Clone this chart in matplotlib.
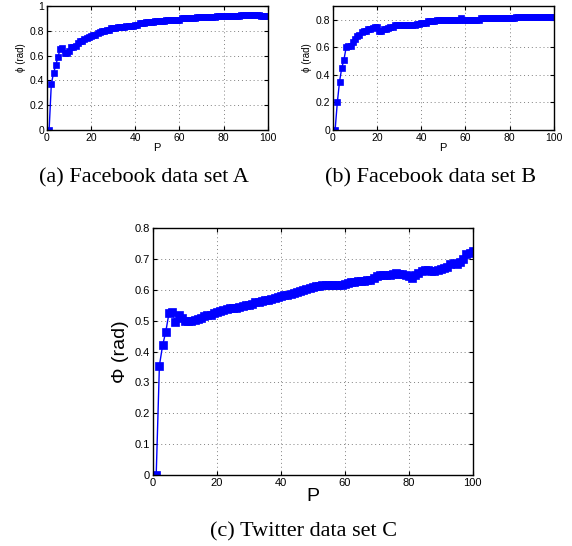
import matplotlib

matplotlib.use("Agg")
import matplotlib.pyplot as plt  # noqa: E402

plt.rcParams["font.family"] = ["Liberation Sans", "DejaVu Sans"]

P = list(range(1, 101))

phi_a = [0.00, 0.37, 0.46, 0.52, 0.59, 0.65, 0.66, 0.62, 0.62, 0.64,
         0.67, 0.67, 0.68, 0.70, 0.72, 0.72, 0.73, 0.74, 0.75, 0.76,
         0.77, 0.77, 0.78, 0.79, 0.80, 0.80, 0.81, 0.81, 0.82, 0.82,
         0.82, 0.83, 0.83, 0.83, 0.83, 0.84, 0.84, 0.84, 0.84, 0.85,
         0.85, 0.86, 0.86, 0.86, 0.87, 0.87, 0.87, 0.87, 0.88, 0.88,
         0.88, 0.88, 0.88, 0.89, 0.89, 0.89, 0.89, 0.89, 0.89, 0.89,
         0.90, 0.90, 0.90, 0.90, 0.90, 0.90, 0.90, 0.91, 0.91, 0.91,
         0.91, 0.91, 0.91, 0.91, 0.91, 0.91, 0.92, 0.92, 0.92, 0.92,
         0.92, 0.92, 0.92, 0.92, 0.92, 0.92, 0.92, 0.93, 0.93, 0.93,
         0.93, 0.93, 0.93, 0.93, 0.93, 0.93, 0.92, 0.92, 0.92, 0.92]

phi_b = [0.00, 0.20, 0.35, 0.45, 0.51, 0.60, 0.61, 0.61, 0.64, 0.66,
         0.68, 0.69, 0.71, 0.72, 0.72, 0.73, 0.73, 0.74, 0.75, 0.75,
         0.72, 0.72, 0.73, 0.73, 0.74, 0.75, 0.75, 0.76, 0.76, 0.76,
         0.76, 0.76, 0.76, 0.76, 0.76, 0.76, 0.76, 0.77, 0.77, 0.78,
         0.78, 0.78, 0.79, 0.79, 0.79, 0.79, 0.80, 0.80, 0.80, 0.80,
         0.80, 0.80, 0.80, 0.80, 0.80, 0.80, 0.80, 0.81, 0.80, 0.80,
         0.80, 0.80, 0.80, 0.80, 0.80, 0.80, 0.81, 0.81, 0.81, 0.81,
         0.81, 0.81, 0.81, 0.81, 0.81, 0.81, 0.81, 0.81, 0.81, 0.81,
         0.81, 0.81, 0.82, 0.82, 0.82, 0.82, 0.82, 0.82, 0.82, 0.82,
         0.82, 0.82, 0.82, 0.82, 0.82, 0.82, 0.82, 0.82, 0.82, 0.82]

phi_c = [0.000, 0.355, 0.420, 0.465, 0.525, 0.530, 0.495, 0.520, 0.510, 0.500,
         0.500, 0.500, 0.502, 0.505, 0.510, 0.515, 0.518, 0.520, 0.525, 0.530,
         0.532, 0.535, 0.537, 0.540, 0.540, 0.542, 0.545, 0.547, 0.550, 0.552,
         0.555, 0.560, 0.562, 0.565, 0.567, 0.568, 0.570, 0.573, 0.576, 0.580,
         0.582, 0.585, 0.588, 0.590, 0.592, 0.596, 0.600, 0.603, 0.606, 0.610,
         0.612, 0.613, 0.615, 0.615, 0.615, 0.616, 0.615, 0.615, 0.617, 0.620,
         0.622, 0.625, 0.627, 0.628, 0.630, 0.630, 0.632, 0.633, 0.640, 0.645,
         0.648, 0.650, 0.648, 0.650, 0.652, 0.655, 0.652, 0.652, 0.650, 0.645,
         0.640, 0.648, 0.655, 0.660, 0.663, 0.665, 0.662, 0.662, 0.665, 0.667,
         0.670, 0.675, 0.685, 0.688, 0.685, 0.690, 0.700, 0.715, 0.720, 0.725]

panels = [
    # (values, y-limit, y-ticks, ylabel, caption)
    (phi_a, 1.0, [0, 0.2, 0.4, 0.6, 0.8, 1], "\u03d5 (rad)", "(a) Facebook data set A"),
    (phi_b, 0.9, [0, 0.2, 0.4, 0.6, 0.8], "\u03d5 (rad)", "(b) Facebook data set B"),
    (phi_c, 0.8, [0, 0.1, 0.2, 0.3, 0.4, 0.5, 0.6, 0.7, 0.8], "\u03a6 (rad)", "(c) Twitter data set C"),
]
rects = [
    [0.082, 0.762, 0.386, 0.227],
    [0.582, 0.762, 0.386, 0.227],
    [0.2675, 0.130, 0.559, 0.452],
]
# caption centres (figure fraction)
caption_xy = [(0.252, 0.675), (0.752, 0.675), (0.531, 0.025)]

fig = plt.figure(figsize=(5.72, 5.46), dpi=100)

for i, ((vals, ytop, yticks, ylab, cap), rect) in enumerate(zip(panels, rects)):
    big = i == 2
    ax = fig.add_axes(rect)
    ax.plot(P, vals, color="#0000ff", marker="s", markersize=5.2 if big else 4.3,
            linewidth=1.0, markeredgewidth=0.5, markeredgecolor="#0000ff")
    ax.set_xlim(0, 100)
    ax.set_ylim(0, ytop)
    ax.set_xticks([0, 20, 40, 60, 80, 100])
    ax.set_yticks(yticks)
    ax.set_yticklabels([f"{t:g}" for t in yticks])
    ax.grid(True, linestyle=(0, (1, 3)), color="#808080", linewidth=0.7)
    ax.tick_params(direction="in", top=True, right=True, length=3,
                   labelsize=8 if big else 7.5, pad=2)
    for s in ax.spines.values():
        s.set_linewidth(1.0)
    ax.set_xlabel("P", fontsize=14 if big else 8, labelpad=0)
    ax.set_ylabel(ylab, fontsize=14 if big else 7, labelpad=4 if big else 3)
    if not big:
        ax.yaxis.set_label_coords(-0.095, 0.58)
    cx, cy = caption_xy[i]
    fig.text(cx, cy, cap, ha="center", va="center", fontsize=16,
             family=["Liberation Serif", "DejaVu Serif"])

fig.savefig("out.png", dpi=100)
